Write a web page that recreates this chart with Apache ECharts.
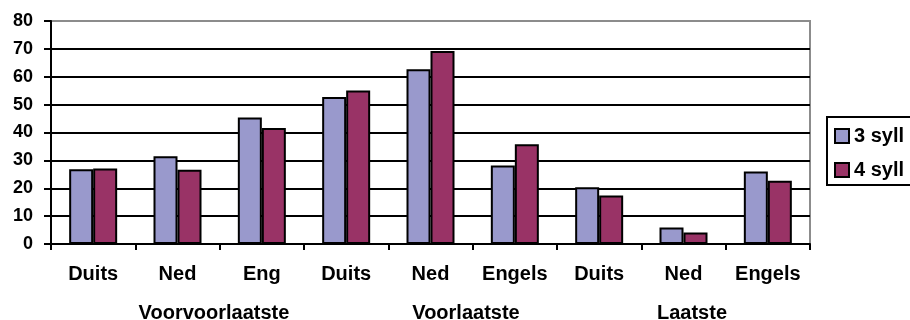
<!DOCTYPE html>
<html>
<head>
<meta charset="utf-8">
<script src="https://cdn.jsdelivr.net/npm/echarts@6/dist/echarts.min.js"></script>
<style>
  html, body { margin: 0; padding: 0; background: #fff; }
  #chart { width: 910px; height: 320px; }
</style>
</head>
<body>
<div id="chart"></div>
<script>
// Stress position per language, split by word length in syllables
const categories = ['Duits', 'Ned', 'Eng', 'Duits', 'Ned', 'Engels', 'Duits', 'Ned', 'Engels'];
const groupLabels = ['Voorvoorlaatste', 'Voorlaatste', 'Laatste'];
const seriesNames = ['3 syll', '4 syll'];
const syll3 = [26.8, 31.5, 45.4, 52.7, 62.7, 28.2, 20.4, 5.9, 26.0];
const syll4 = [27.1, 26.6, 41.6, 55.1, 69.2, 35.8, 17.4, 4.1, 22.7];
const yTicks = { min: 0, max: 80, interval: 10 };

const FONT = "'Liberation Sans', Arial, sans-serif";
const chart = echarts.init(document.getElementById('chart'), null, { renderer: 'canvas' });

const barStyle = (color) => ({ color: color, borderColor: '#000', borderWidth: 2 });

// group captions under the category labels
const groupX = [214, 466, 692];

chart.setOption({
  animation: false,
  backgroundColor: '#fff',
  grid: {
    left: 51, right: 100, top: 21, bottom: 76,
    show: true, borderColor: '#8c8c8c', borderWidth: 2, backgroundColor: 'transparent'
  },
  legend: {
    orient: 'vertical',
    left: 827, top: 117,
    data: seriesNames,
    icon: 'rect',
    itemWidth: 14, itemHeight: 14, itemGap: 14,
    padding: [9, 40, 5, 7],
    borderColor: '#000', borderWidth: 2,
    itemStyle: { borderColor: '#000', borderWidth: 2 },
    textStyle: { fontFamily: FONT, fontWeight: 'bold', fontSize: 20, color: '#000', lineHeight: 20 }
  },
  xAxis: {
    type: 'category',
    data: categories,
    axisLine: { lineStyle: { color: '#000', width: 2 } },
    axisTick: { show: true, length: 6, interval: 0, lineStyle: { color: '#000', width: 2 } },
    axisLabel: { interval: 0, margin: 20, fontFamily: FONT, fontWeight: 'bold', fontSize: 20, color: '#000' }
  },
  yAxis: {
    type: 'value',
    min: yTicks.min, max: yTicks.max, interval: yTicks.interval,
    axisLine: { show: true, lineStyle: { color: '#000', width: 2 } },
    axisTick: { show: true, length: 7, lineStyle: { color: '#000', width: 2 } },
    axisLabel: { margin: 18, fontFamily: FONT, fontWeight: 'bold', fontSize: 18, color: '#000' },
    splitLine: { show: true, showMinLine: false, showMaxLine: false, lineStyle: { color: '#000', width: 2 } }
  },
  series: [
    { name: seriesNames[0], type: 'bar', data: syll3, barWidth: 24, barGap: '0%', itemStyle: barStyle('#9999cc') },
    { name: seriesNames[1], type: 'bar', data: syll4, barWidth: 24, barGap: '0%', itemStyle: barStyle('#993366') }
  ],
  graphic: groupLabels.map((t, i) => ({
    type: 'text',
    x: groupX[i], y: 313,
    style: {
      text: t, fontFamily: FONT, fontWeight: 'bold', fontSize: 20, fill: '#000',
      align: 'center', verticalAlign: 'middle'
    }
  }))
});
</script>
</body>
</html>
